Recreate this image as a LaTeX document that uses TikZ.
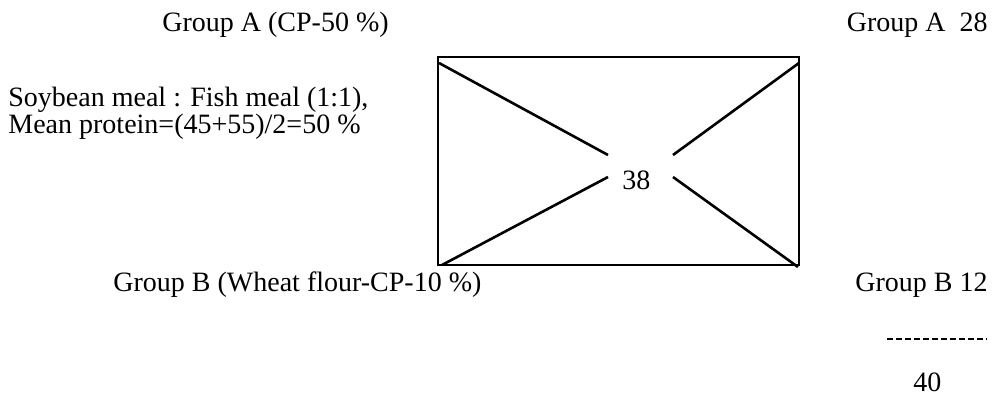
\documentclass[tikz,border=0pt]{standalone}
\usepackage{fontspec}
\setmainfont{Liberation Serif}
\begin{document}
\begin{tikzpicture}[x=0.5pt,y=-0.5pt,
  lbl/.style={anchor=base west,inner sep=0pt,font=\fontsize{14}{17}\selectfont},
  lblr/.style={anchor=base east,inner sep=0pt,font=\fontsize{14}{17}\selectfont},
  frame/.style={draw=black,line width=0.9pt},
  diag/.style={draw=black,line width=1.3pt}]
\useasboundingbox (0,0) rectangle (998,401);
% rectangle
\coordinate (tl) at (438,57);
\coordinate (br) at (799,265);
\draw[frame] (tl) rectangle (br);
% diagonal ends
\coordinate (a1) at (439,63);
\coordinate (a2) at (608,155);
\coordinate (b1) at (799,63);
\coordinate (b2) at (673,155);
\coordinate (c1) at (442,265);
\coordinate (c2) at (608,177);
\coordinate (d1) at (798,267);
\coordinate (d2) at (673,177);
\draw[diag] (a1) -- (a2);
\draw[diag] (b1) -- (b2);
\draw[diag] (c1) -- (c2);
\draw[diag] (d1) -- (d2);
\node[lbl] (mid) at (622,190) {38};
% left texts
\node[lbl] (ga) at (162,32) {Group A (CP-50 \%)};
\node[lbl] (s1) at (8,107) {Soybean meal : Fish meal (1:1),};
\node[lbl] (s2) at (8,134) {Mean protein=(45+55)/2=50 \%};
\node[lbl] (gb) at (113,292) {Group B (Wheat flour-CP-10 \%)};
% right texts
\node[lblr] (ra) at (988,32) {Group A\ \ 28};
\node[lblr] (rb) at (988,292) {Group B 12};
\coordinate (l1) at (887,339);
\coordinate (l2) at (987,339);
\draw[line width=1.3pt,dash pattern=on 3pt off 1.5pt] (l1) -- (l2);
\node[lbl] (tot) at (913,392) {40};
\end{tikzpicture}
\end{document}
